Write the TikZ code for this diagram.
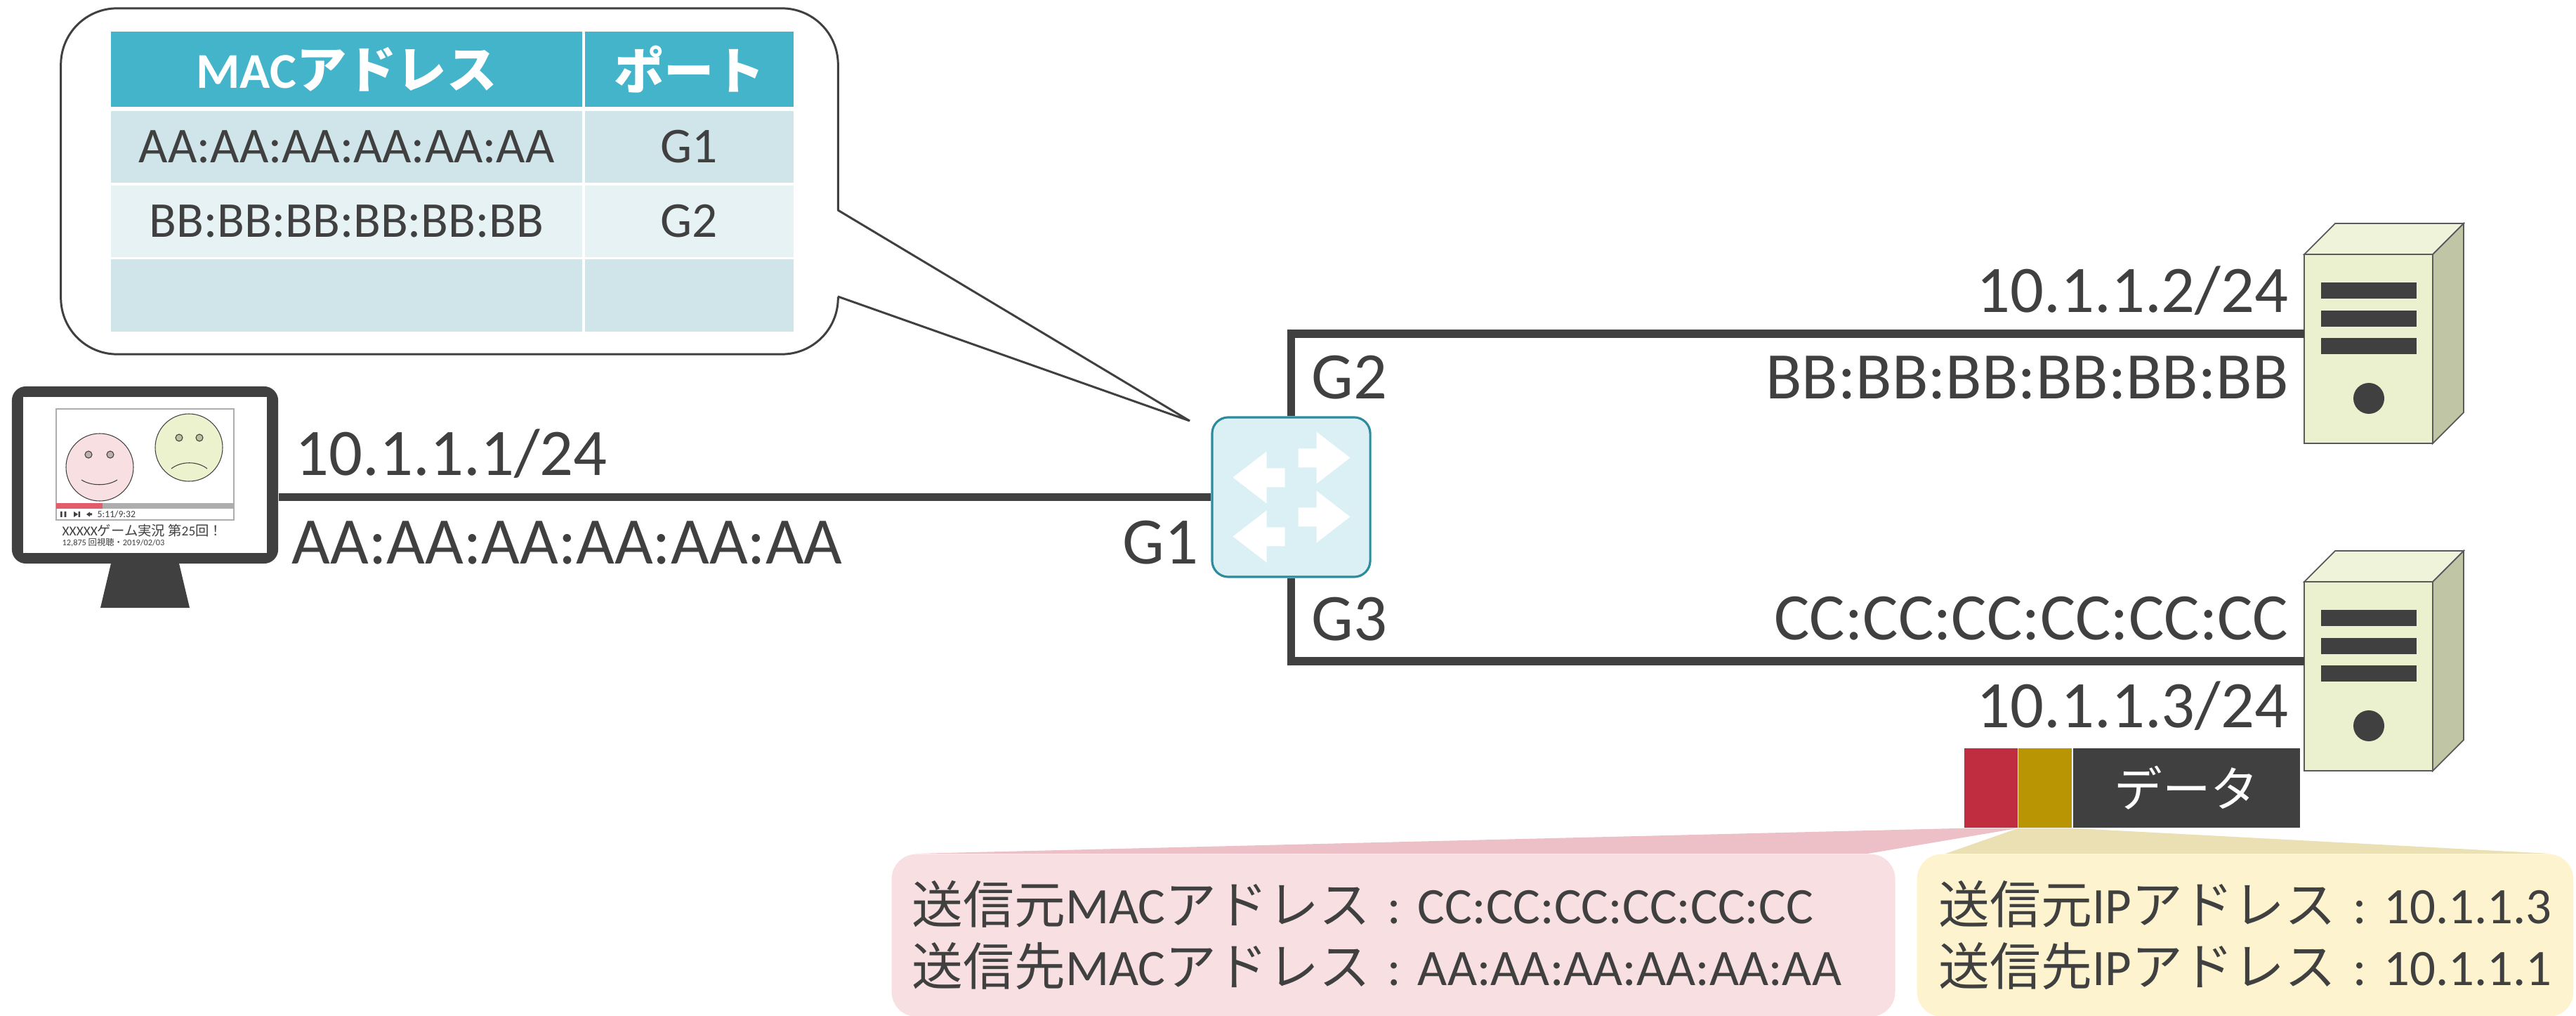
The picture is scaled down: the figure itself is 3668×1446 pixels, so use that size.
\documentclass[tikz,border=0pt]{standalone}
\usepackage{fontspec}
\setmainfont{Carlito}
\newfontfamily\jp{Noto Sans CJK JP}
\usetikzlibrary{positioning, calc, backgrounds}
\definecolor{cDark}{HTML}{404040}
\definecolor{cHead}{HTML}{43B4C9}
\definecolor{cRowA}{HTML}{CFE5EA}
\definecolor{cRowB}{HTML}{E6F2F4}
\definecolor{cSwFill}{HTML}{DAF0F4}
\definecolor{cSwLine}{HTML}{2A8C9E}
\definecolor{cSrvFront}{HTML}{EBF1CF}
\definecolor{cSrvTop}{HTML}{EEF3D9}
\definecolor{cSrvSide}{HTML}{BFC5A5}
\definecolor{cSrvEdge}{HTML}{5A5A5A}
\definecolor{cRed}{HTML}{C02D41}
\definecolor{cOlive}{HTML}{B99503}
\definecolor{cPink}{HTML}{F8DFE2}
\definecolor{cPinkTail}{HTML}{EDC0C8}
\definecolor{cCream}{HTML}{FDF4CF}
\definecolor{cCreamTail}{HTML}{EAE0B4}
\definecolor{cFaceGreen}{HTML}{EBF2CD}
\definecolor{cEyePink}{HTML}{BFAFAF}
\definecolor{cEyeGreen}{HTML}{BDBE9E}
\definecolor{cBar}{HTML}{ADADAD}
\definecolor{cBarRed}{HTML}{E25C6C}
\tikzset{
	link/.style     ={line width=3.4pt, draw=cDark},
	lbl/.style      ={inner sep=0pt, text=cDark, font=\fontsize{26.9}{32}\selectfont},
	% address table
	tcell/.style    ={rectangle, inner sep=0pt, minimum height=1.02cm, text=cDark, font=\fontsize{20.3}{24}\selectfont},
	thead/.style    ={tcell, fill=cHead, minimum height=1.07cm, text=white, font=\fontsize{20.3}{24}\selectfont\bfseries},
	balloon/.style  ={rectangle, rounded corners=8mm, draw=cDark, line width=0.85pt, fill=white, minimum width=11.06cm, minimum height=4.92cm},
	% devices
	swbox/.style    ={rectangle, rounded corners=2.3mm, draw=cSwLine, line width=0.9pt, fill=cSwFill, minimum width=2.25cm, minimum height=2.27cm},
	monitor/.style  ={rectangle, rounded corners=2mm, fill=cDark, minimum width=3.79cm, minimum height=2.52cm, inner sep=0pt},
	face/.style     ={draw=cDark, line width=0.3pt},
	srvline/.style  ={draw=cSrvEdge, line width=0.5pt},
	% frame
	pkt/.style      ={rectangle, inner sep=0pt, minimum width=0.76cm, minimum height=1.13cm, text=white, font=\fontsize{19.5}{24}\selectfont\jp},
	infobox/.style  ={rectangle, rounded corners=3.5mm, anchor=north west, align=left, minimum height=2.31cm, text=cDark, font=\fontsize{20.7}{25}\selectfont},
	swarrow/.pic={
		\fill[white] (0,0) -- (48,-37) -- (48,-13) -- (74,-13) -- (74,14) -- (48,14) -- (48,37) -- cycle;
	},
	server/.pic={
		\filldraw[srvline, fill=cSrvTop] (0,0) -- (44,-44) -- (227,-44) -- (183,0) -- cycle;
		\filldraw[srvline, fill=cSrvSide] (183,0) -- (227,-44) -- (227,225) -- (183,269) -- cycle;
		\filldraw[srvline, fill=cSrvFront] (0,0) rectangle (183,269);
		\foreach \y in {40,80,119} \fill[cDark] (24,\y) rectangle (160,\y+23);
		\fill[cDark] (92,205) circle[radius=22];
		\coordinate (-port) at (0,113);
	},
}

\begin{document}
\begin{tikzpicture}[x=0.01cm, y=-0.01cm]
	\useasboundingbox (0,0) rectangle (3668,1446);

	% speech balloon with the address table
	\node[balloon] (tbl) at (640,258) {};
	\fill[white] (1191,299) -- (1694,599) -- (1191,422) -- cycle;
	\draw[cDark, line width=0.85pt] (1193,299) -- (1694,599) -- (1193,422);
	\node[thead, minimum width=6.71cm] (hMac) at (493.5,98.5) {MAC{\jp アドレス}};
	\node[thead, minimum width=2.97cm] (hPort) at (981.5,98.5) {\jp ポート};
	\node[tcell, fill=cRowA, minimum width=6.71cm] (mac1) at (493.5,209) {AA:AA:AA:AA:AA:AA};
	\node[tcell, fill=cRowA, minimum width=2.97cm] (port1) at (981.5,209) {G1};
	\node[tcell, fill=cRowB, minimum width=6.71cm] (mac2) at (493.5,315) {BB:BB:BB:BB:BB:BB};
	\node[tcell, fill=cRowB, minimum width=2.97cm] (port2) at (981.5,315) {G2};
	\node[tcell, fill=cRowA, minimum width=6.71cm] (mac3) at (493.5,420.5) {};
	\node[tcell, fill=cRowA, minimum width=2.97cm] (port3) at (981.5,420.5) {};

	% pc monitor
	\node[monitor] (pc) at (206.5,676) {};
	\fill[white] (33,565) rectangle (380,787);
	\fill[cDark] (158,802) -- (255,802) -- (270,865) -- (143,865) -- cycle;
	\draw[cBar, line width=0.4pt] (80,582) rectangle (333,740);
	\fill[cBar] (80,716) rectangle (333,724);
	\fill[cBarRed] (80,716) rectangle (146,724);
	\filldraw[face, fill=cPink] (142,665) circle[radius=48];
	\filldraw[face, fill=cEyePink] (126,647) circle[radius=5] (157,647) circle[radius=5];
	\draw[face] (116,683) .. controls (130,692) and (153,692) .. (167,683);
	\filldraw[face, fill=cFaceGreen] (269,637) circle[radius=48];
	\filldraw[face, fill=cEyeGreen] (255,623) circle[radius=5] (284,623) circle[radius=5];
	\draw[face] (244,667) .. controls (258,656) and (281,656) .. (295,667);
	% player controls
	\fill[cDark] (86,728) rectangle (88.7,736) (91.7,728) rectangle (94.3,736);
	\fill[cDark] (105,728) -- (111,732) -- (105,736) -- cycle (111.5,728) rectangle (114,736);
	\fill[cDark] (123,732) -- (128,728.5) -- (128,735.5) -- cycle (128,730.5) rectangle (131,733.5);
	\node[anchor=base west, inner sep=0pt, text=cDark, font=\fontsize{3.9}{4.5}\selectfont] (vtime) at (138,736) {5:11/9:32};
	\node[anchor=base west, inner sep=0pt, text=cDark, font=\fontsize{5.5}{6}\selectfont] (vtitle) at (88,763) {XXXXX{\jp ゲーム実況 第}25{\jp 回！}};
	\node[anchor=base west, inner sep=0pt, text=cDark, font=\fontsize{3.5}{4}\selectfont] (vinfo) at (88,776) {12,875 {\jp 回視聴・}2019/02/03};

	% switch
	\node[swbox] (sw) at (1838.5,707.5) {};
	\path (sw) ++(-83,-28) pic {swarrow} (sw) ++(-83,56) pic {swarrow};
	\path (sw) ++(84,-56) pic[xscale=-1] {swarrow} (sw) ++(84,28) pic[xscale=-1] {swarrow};

	% servers
	\pic (srvB) at (3281,362) {server};
	\pic (srvC) at (3281,828) {server};

	% links
	\draw[link] (pc.east |- sw) -- (sw);
	\draw[link] (sw) |- (srvB-port);
	\draw[link] (sw) |- (srvC-port);

	\node[lbl, anchor=base west] (ipA) at (420,677) {10.1.1.1/24};
	\node[lbl, anchor=base west] (macA) at (415,802) {AA:AA:AA:AA:AA:AA};
	\node[lbl, anchor=base east] (pG1) at (1707,802) {G1};
	\node[lbl, anchor=base west] (pG2) at (1867,568) {G2};
	\node[lbl, anchor=base west] (pG3) at (1867,911) {G3};
	\node[lbl, anchor=base east] (ipB) at (3259,445) {10.1.1.2/24};
	\node[lbl, anchor=base east] (macB) at (3259,568) {BB:BB:BB:BB:BB:BB};
	\node[lbl, anchor=base east] (macC) at (3259,910) {CC:CC:CC:CC:CC:CC};
	\node[lbl, anchor=base east] (ipC) at (3259,1035) {10.1.1.3/24};

	% frame and header details
	\node[pkt, fill=cRed] (l2hdr) at (2835,1121.5) {};
	\node[pkt, fill=cOlive, right=0pt of l2hdr] (l3hdr) {};
	\node[pkt, fill=cDark, minimum width=3.23cm, right=0pt of l3hdr] (payload) {データ};
	\node[infobox, fill=cPink, text width=13.70cm, inner xsep=0.29cm] (ethinfo) at (1269,1215)
		{{\jp 送信元}MAC{\jp アドレス}~:~CC:CC:CC:CC:CC:CC\\{\jp 送信先}MAC{\jp アドレス}~:~AA:AA:AA:AA:AA:AA};
	\node[infobox, fill=cCream, text width=8.72cm, inner xsep=0.31cm] (ipinfo) at (2729,1215)
		{{\jp 送信元}IP{\jp アドレス}~:~10.1.1.3\\{\jp 送信先}IP{\jp アドレス}~:~10.1.1.1};
	\begin{scope}[on background layer]
		\fill[cPinkTail] (l2hdr.south west) -- (l2hdr.south east) -- ($(ethinfo.north east)+(-40,0)$) -- ($(ethinfo.north west)+(34,0)$) -- cycle;
		\fill[cCreamTail] (l3hdr.south west) -- (l3hdr.south east) -- ($(ipinfo.north east)+(-33,0)$) -- ($(ipinfo.north west)+(41,0)$) -- cycle;
	\end{scope}
\end{tikzpicture}
\end{document}
